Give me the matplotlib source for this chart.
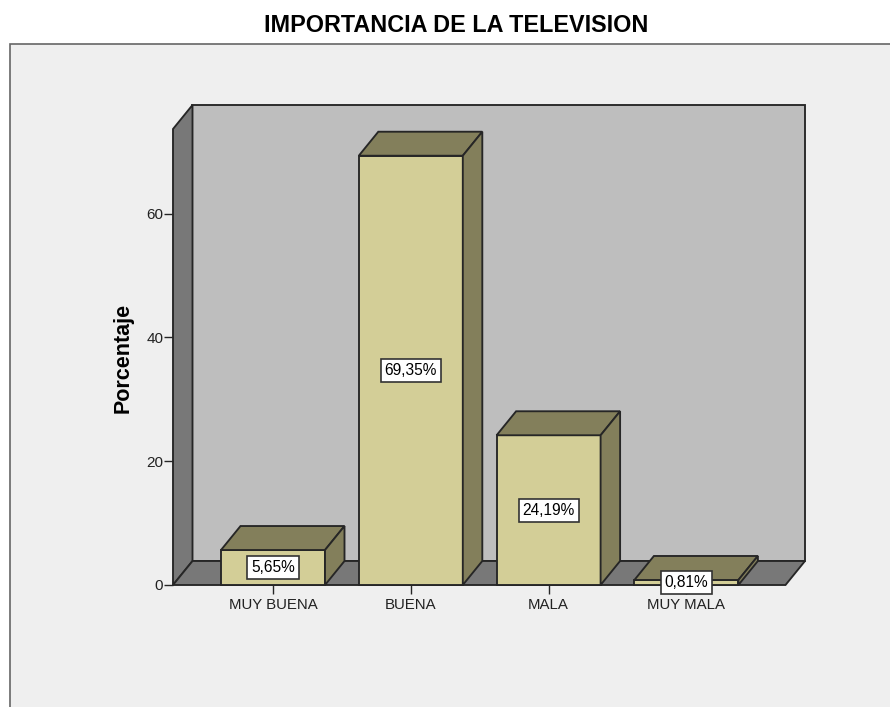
import matplotlib
matplotlib.use("Agg")
import matplotlib.pyplot as plt
from matplotlib.patches import Rectangle

plt.rcParams['font.family'] = ['Liberation Sans', 'DejaVu Sans']

categories = ["MUY BUENA", "BUENA", "MALA", "MUY MALA"]
percent = [5.65, 69.35, 24.19, 0.81]
y_ticks = [0, 20, 40, 60]

W, H = 890, 707
px = 1 / 100

# colours
wall = "#BEBEBE"
floor = "#787878"
front = "#D3CE97"
shade = "#837F5B"
edge = "#262626"
lw = 1.35

fig = plt.figure(figsize=(W * px, H * px), dpi=100, facecolor="white")

# grey panel, runs off the right and bottom of the picture
fig.add_artist(Rectangle((10 / W, -0.05), 1.0, 1.05 - 44 / H, transform=fig.transFigure,
                         facecolor="#EFEFEF", edgecolor="#666666", lw=1.2, zorder=-1))

fig.text(456 / W, 1 - 26 / H, "IMPORTANCIA DE LA TELEVISION", fontsize=16.8,
         fontweight="bold", ha="center", va="center", color="black")

# front plane of the plot box in pixels
left, right, bottom, top = 173, 805, 585, 105
ax = fig.add_axes([left / W, 1 - bottom / H, (right - left) / W, (bottom - top) / H])
ax.patch.set_visible(False)
for s in ax.spines.values():
    s.set_visible(False)

# scale: 137.8 px per category, 6.19 px per percent
xmin = -100 / 137.8
xmax = xmin + (right - left) / 137.8
ymax = (bottom - top) / 6.19
ax.set_xlim(xmin, xmax)
ax.set_ylim(0, ymax)

# depth of the 3d effect
dx = 19.5 / 137.8
dy = 24 / 6.19

# back wall, left wall, floor
xs = xmax - dx
ax.fill([xmin + dx, xmax, xmax, xmin + dx], [dy, dy, ymax, ymax], facecolor=wall,
        edgecolor=edge, lw=lw, zorder=1, clip_on=False)
ax.fill([xmin, xmin + dx, xmin + dx, xmin], [0, dy, ymax, ymax - dy], facecolor=floor,
        edgecolor=edge, lw=lw, zorder=1, clip_on=False)
ax.fill([xmin, xs, xmax, xmin + dx], [0, 0, dy, dy], facecolor=floor,
        edgecolor=edge, lw=lw, zorder=1, clip_on=False)

# bars
bw = 104 / 137.8
for i, v in enumerate(percent):
    x0, x1 = i - bw / 2, i + bw / 2
    ax.bar(i, v, width=bw, color=front, edgecolor=edge, lw=lw, zorder=3, clip_on=False)
    ax.fill([x0, x1, x1 + dx, x0 + dx], [v, v, v + dy, v + dy], facecolor=shade,
            edgecolor=edge, lw=lw, zorder=3, clip_on=False)
    ax.fill([x1, x1 + dx, x1 + dx, x1], [0, dy, v + dy, v], facecolor=shade,
            edgecolor=edge, lw=lw, zorder=3, clip_on=False)
    ax.text(i, v / 2, f"{v:.2f}".replace(".", ",") + "%", ha="center", va="center",
            fontsize=11.2, color="black", zorder=5,
            bbox=dict(boxstyle="square,pad=0.25", facecolor="white", edgecolor="#333333", lw=1.2))

ax.set_xticks(range(len(categories)))
ax.set_xticklabels(categories, fontsize=10.8, color="#222222")
ax.set_yticks(y_ticks)
ax.set_yticklabels([str(t) for t in y_ticks], fontsize=11, color="#222222")
ax.tick_params(axis="x", length=6.5, width=1, color=edge, pad=3)
ax.tick_params(axis="y", length=6.5, width=1, color=edge, pad=0.5)

fig.text(123 / W, 1 - 358 / H, "Porcentaje", rotation=90, fontsize=15.5, fontweight="bold",
         ha="center", va="center", color="black")

fig.savefig("out.png", dpi=100)
